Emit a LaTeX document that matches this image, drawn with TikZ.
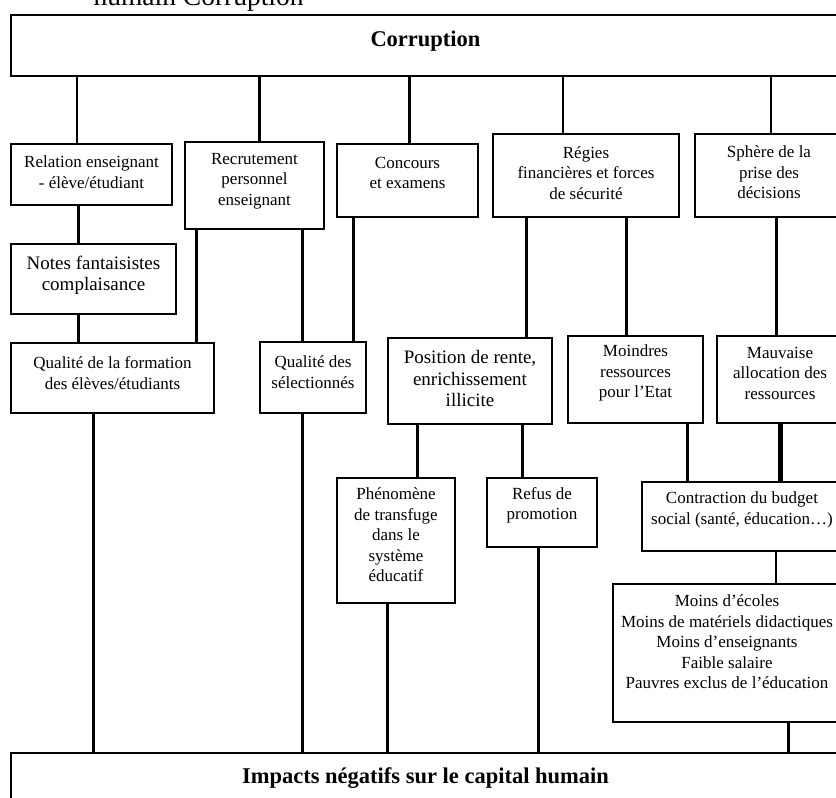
\documentclass[tikz,border=0pt]{standalone}
\usepackage{fontspec}
\setmainfont{Liberation Serif}
\tikzset{
  box/.style={draw, line width=1.8pt, inner sep=0pt},
  txt/.style={align=center, font=\fontsize{17}{20.5}\selectfont},
  bigtxt/.style={align=center, font=\fontsize{19}{21.5}\selectfont},
  head/.style={font=\fontsize{22.5}{26}\selectfont\bfseries},
  link/.style={line width=3pt},
  thinlink/.style={line width=2pt},
  heavylink/.style={line width=5pt},
}

\begin{document}
\begin{tikzpicture}[x=1pt, y=-1pt]
    \useasboundingbox (0,0) rectangle (836,798);
    \clip (0,0) rectangle (836,798);
    \node[anchor=base west, font=\fontsize{27.5}{30}\selectfont] (title) at (90,5) {humain Corruption};
    % causes
    \node[box, minimum width=829pt, minimum height=61pt, label={[head, yshift=4pt]center:Corruption}] (cor) at (425.5,45.5) {};
    \node[box, minimum width=161pt, minimum height=61pt, label={[txt, yshift=2.5pt]center:{Relation enseignant\\- élève/étudiant}}] (rel) at (91.5,174.5) {};
    \node[box, minimum width=139pt, minimum height=87pt, label={[txt, yshift=4.5pt]center:{Recrutement\\personnel\\enseignant}}] (rec) at (254.5,185.5) {};
    \node[box, minimum width=141pt, minimum height=73pt, label={[txt, yshift=7.5pt]center:{Concours\\et examens}}] (con) at (407.5,180.5) {};
    \node[box, minimum width=186pt, minimum height=83pt, label={[txt, yshift=2.5pt]center:{Régies\\financières et forces\\de sécurité}}] (reg) at (586,175.5) {};
    \node[box, minimum width=148pt, minimum height=83pt, label={[txt, yshift=3pt]center:{Sphère de la\\prise des\\décisions}}] (sph) at (769,175.5) {};
    % effets intermediaires
    \node[box, minimum width=165pt, minimum height=70pt, label={[bigtxt, yshift=3.5pt]center:{Notes fantaisistes\\complaisance}}] (notes) at (93.5,279) {};
    \node[box, minimum width=203pt, minimum height=70pt, label={[txt, yshift=5pt]center:{Qualité de la formation\\des élèves/étudiants}}] (qf) at (112.5,378) {};
    \node[box, minimum width=106pt, minimum height=71pt, label={[txt, yshift=5.5pt]center:{Qualité des\\sélectionnés}}] (qs) at (313,377.5) {};
    \node[box, minimum width=164pt, minimum height=86pt, label={[bigtxt, yshift=2.5pt]center:{Position de rente,\\enrichissement\\illicite}}] (pos) at (470,381) {};
    \node[box, minimum width=135pt, minimum height=87pt, label={[txt, yshift=6.5pt]center:{Moindres\\ressources\\pour l’Etat}}] (moi) at (635.5,379.5) {};
    \node[box, minimum width=126pt, minimum height=87pt, label={[txt, yshift=6.5pt]center:{Mauvaise\\allocation des\\ressources}}] (mau) at (780,379.5) {};
    \node[box, minimum width=118pt, minimum height=125pt, label={[txt, yshift=5.5pt]center:{Phénomène\\de transfuge\\dans le\\système\\éducatif}}] (phe) at (396,540.5) {};
    \node[box, minimum width=110pt, minimum height=69pt, label={[txt, yshift=7pt]center:{Refus de\\promotion}}] (ref) at (542,512.5) {};
    \node[box, minimum width=200pt, minimum height=69pt, label={[txt, yshift=6.5pt]center:{Contraction du budget\\social (santé, éducation…)}}] (cont) at (742,516.5) {};
    \node[box, minimum width=228pt, minimum height=138pt, label={[txt, yshift=11pt]center:{Moins d’écoles\\Moins de matériels didactiques\\Moins d’enseignants\\Faible salaire\\Pauvres exclus de l’éducation}}] (moins) at (727,653) {};
    % resultat
    \node[box, minimum width=829pt, minimum height=57pt, label={[head, yshift=3.5pt]center:Impacts négatifs sur le capital humain}] (imp) at (425.5,781.5) {};
    % liens
    \draw[thinlink] (77,0 |- cor.south) -- (77,0 |- rel.north);
    \draw[link] (259,0 |- cor.south) -- (259,0 |- rec.north);
    \draw[link] (409,0 |- cor.south) -- (409,0 |- con.north);
    \draw[thinlink] (563,0 |- cor.south) -- (563,0 |- reg.north);
    \draw[thinlink] (771,0 |- cor.south) -- (771,0 |- sph.north);
    \draw[link] (78,0 |- rel.south) -- (78,0 |- notes.north);
    \draw[link] (78,0 |- notes.south) -- (78,0 |- qf.north);
    \draw[link] (196,0 |- rec.south) -- (196,0 |- qf.north);
    \draw[link] (302,0 |- rec.south) -- (302,0 |- qs.north);
    \draw[link] (353,0 |- con.south) -- (353,0 |- qs.north);
    \draw[link] (526,0 |- reg.south) -- (526,0 |- pos.north);
    \draw[link] (626,0 |- reg.south) -- (626,0 |- moi.north);
    \draw[link] (776,0 |- sph.south) -- (776,0 |- mau.north);
    \draw[link] (417,0 |- pos.south) -- (417,0 |- phe.north);
    \draw[link] (522,0 |- pos.south) -- (522,0 |- ref.north);
    \draw[link] (687,0 |- moi.south) -- (687,0 |- cont.north);
    \draw[heavylink] (780,0 |- mau.south) -- (780,0 |- cont.north);
    \draw[thinlink] (776,0 |- cont.south) -- (776,0 |- moins.north);
    \draw[link] (93,0 |- qf.south) -- (93,0 |- imp.north);
    \draw[link] (302,0 |- qs.south) -- (302,0 |- imp.north);
    \draw[link] (387,0 |- phe.south) -- (387,0 |- imp.north);
    \draw[link] (538,0 |- ref.south) -- (538,0 |- imp.north);
    \draw[link] (788,0 |- moins.south) -- (788,0 |- imp.north);
\end{tikzpicture}
\end{document}
